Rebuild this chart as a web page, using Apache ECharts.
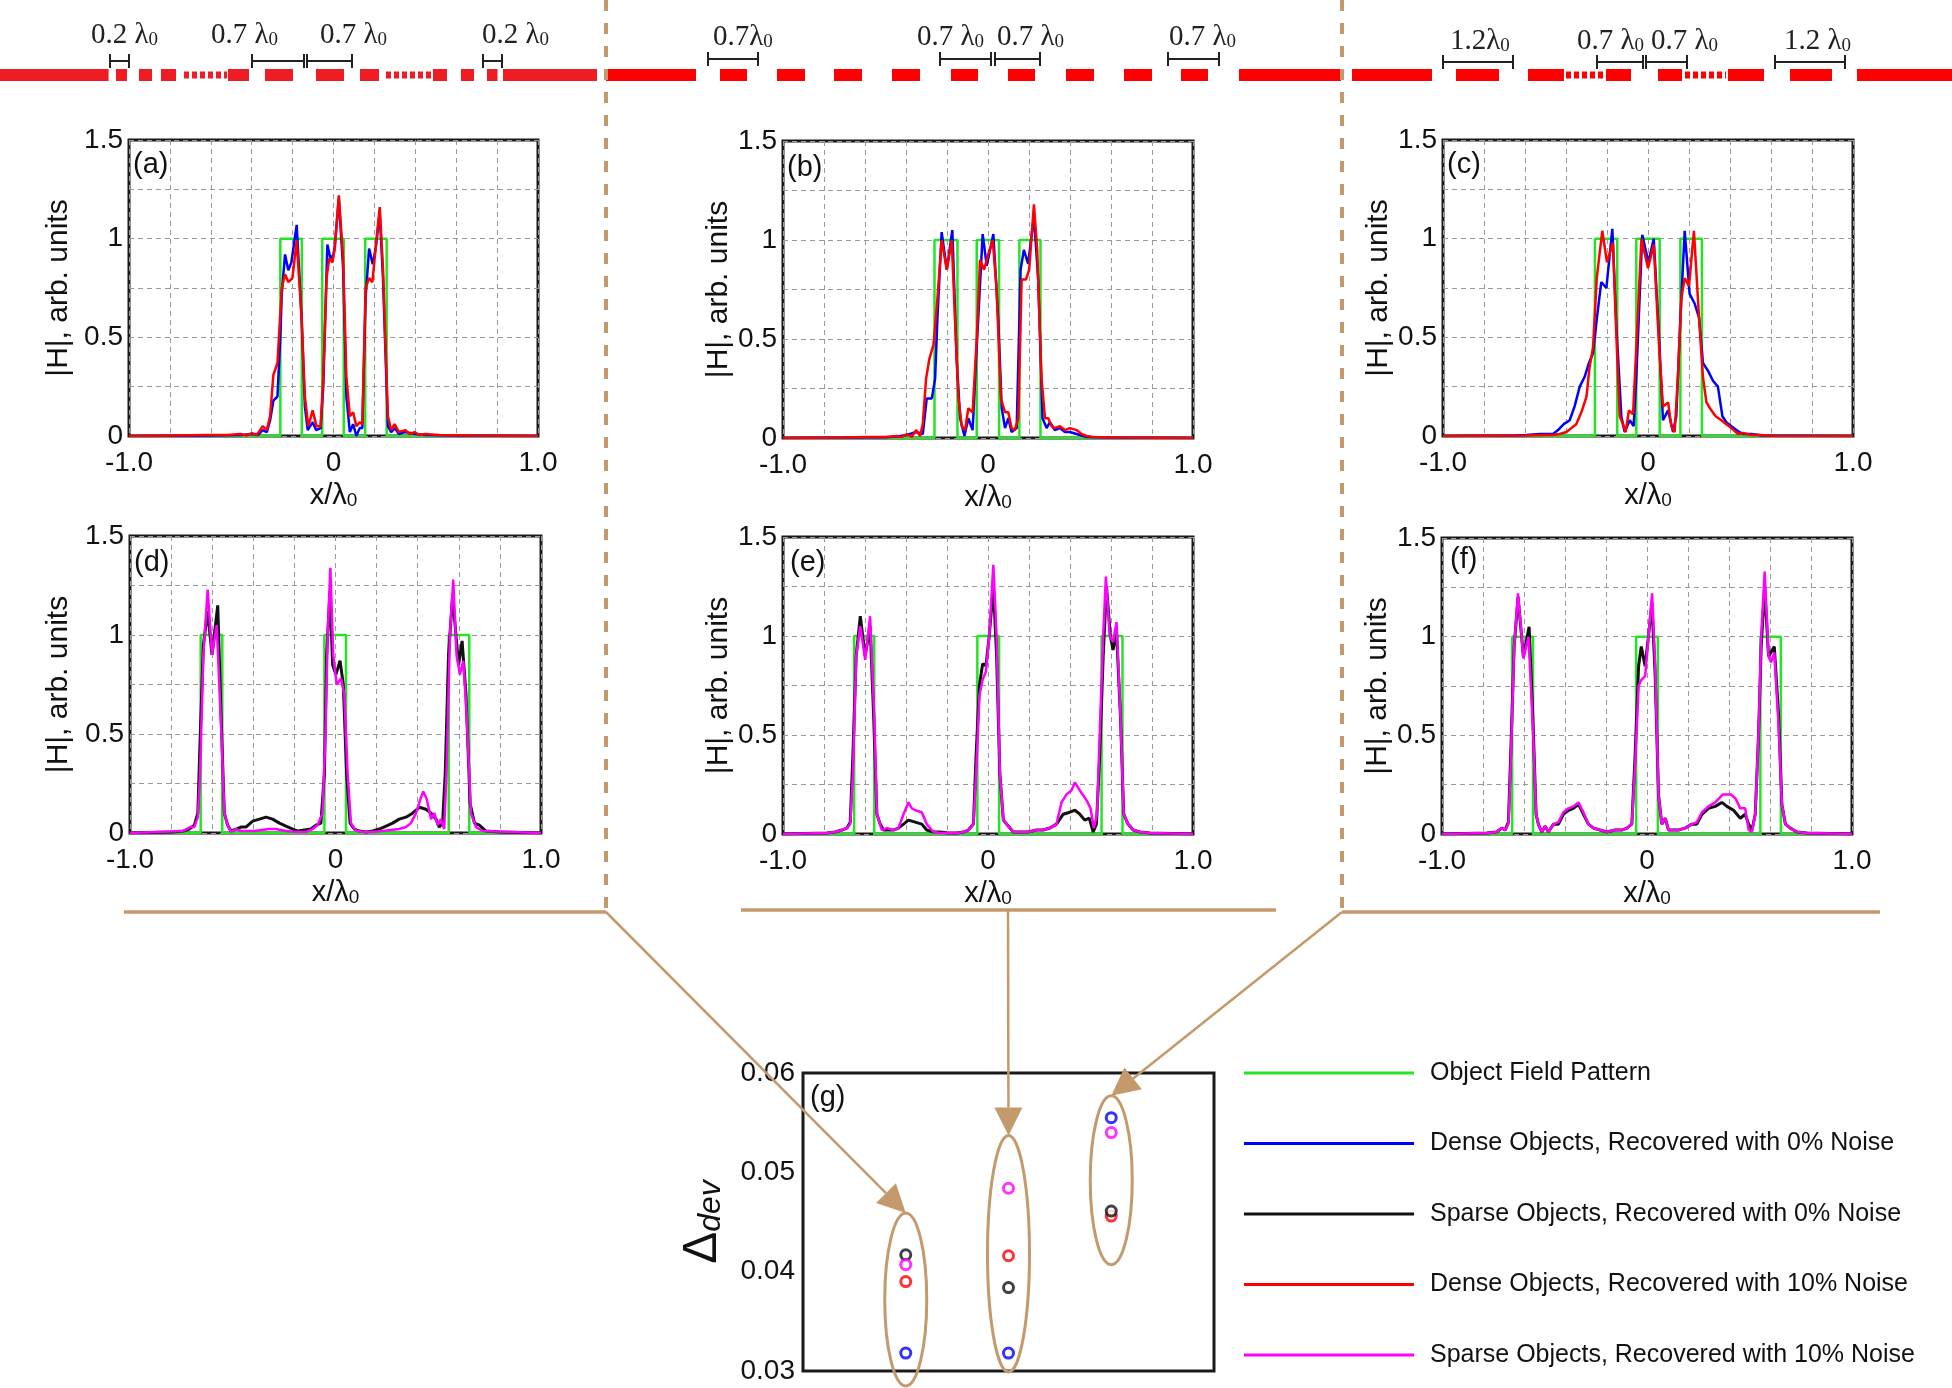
<!DOCTYPE html>
<html><head><meta charset="utf-8">
<script src="https://cdn.jsdelivr.net/npm/echarts@6/dist/echarts.min.js"></script>
<style>html,body{margin:0;padding:0;background:#fff}#c{width:1952px;height:1388px}</style>
</head><body><div id="c"></div>
<script>
// ---------------- DATA ----------------
const seriesNames = [
  'Object Field Pattern',
  'Dense Objects, Recovered with 0% Noise',
  'Sparse Objects, Recovered with 0% Noise',
  'Dense Objects, Recovered with 10% Noise',
  'Sparse Objects, Recovered with 10% Noise'
];
const panelLetters = ['(a)','(b)','(c)','(d)','(e)','(f)','(g)'];
const xTickLabels = [[-1,'-1.0'],[0,'0'],[1,'1.0']];
const yTickLabels = [[0,'0'],[0.5,'0.5'],[1,'1'],[1.5,'1.5']];
const gTickLabels = [[0.03,'0.03'],[0.04,'0.04'],[0.05,'0.05'],[0.06,'0.06']];

// object field patterns (rect edges, x/λ0)
const objA = [[-0.26,-0.155],[-0.055,0.05],[0.155,0.26]];
const objB = [[-0.261,-0.149],[-0.055,0.054],[0.153,0.256]];
const objC = [[-0.259,-0.15],[-0.057,0.057],[0.158,0.263]];
const objD = [[-0.656,-0.551],[-0.054,0.051],[0.551,0.651]];
const objE = [[-0.653,-0.555],[-0.052,0.054],[0.554,0.656]];
const objF = [[-0.658,-0.556],[-0.053,0.053],[0.553,0.653]];

const aDense0 = [[-1,0],[-0.6,0.002],[-0.45,0.005],[-0.4,0.01],[-0.37,0.005],[-0.346,0.03],[-0.326,0.02],[-0.31,0.08],[-0.294,0.18],[-0.274,0.2],[-0.26,0.5],[-0.253,0.72],[-0.237,0.92],[-0.221,0.84],[-0.206,0.88],[-0.18,1.07],[-0.156,0.6],[-0.14,0.15],[-0.126,0.03],[-0.102,0.07],[-0.085,0.03],[-0.063,0.04],[-0.05,0.25],[-0.03,0.97],[-0.015,0.9],[0,0.92],[0.006,0.96],[0.026,1.2],[0.047,0.85],[0.063,0.2],[0.08,0.02],[0.096,0.06],[0.112,0.0],[0.128,0.04],[0.141,0.04],[0.157,0.7],[0.174,0.95],[0.192,0.87],[0.206,0.95],[0.226,1.13],[0.242,0.8],[0.266,0.05],[0.282,0.02],[0.3,0.04],[0.32,0.01],[0.35,0.02],[0.4,0.01],[0.45,0.005],[0.6,0.002],[1,0]];
const aDense10 = [[-1,0],[-0.781,0.003],[-0.619,0.005],[-0.521,0.005],[-0.456,0.01],[-0.424,0.003],[-0.399,0.015],[-0.375,0.005],[-0.346,0.05],[-0.326,0.03],[-0.31,0.1],[-0.294,0.31],[-0.274,0.37],[-0.253,0.75],[-0.237,0.82],[-0.221,0.78],[-0.201,0.8],[-0.18,0.99],[-0.156,0.6],[-0.14,0.2],[-0.123,0.05],[-0.102,0.13],[-0.083,0.05],[-0.063,0.05],[-0.05,0.3],[-0.034,0.8],[-0.021,0.9],[-0.005,0.88],[0.006,0.95],[0.026,1.22],[0.047,0.9],[0.063,0.3],[0.08,0.1],[0.096,0.12],[0.112,0.05],[0.128,0.07],[0.141,0.06],[0.157,0.75],[0.174,0.8],[0.19,0.78],[0.206,0.95],[0.226,1.16],[0.242,0.85],[0.266,0.1],[0.282,0.03],[0.299,0.06],[0.32,0.02],[0.352,0.03],[0.372,0.01],[0.396,0.02],[0.42,0.005],[0.445,0.01],[0.518,0.005],[0.68,0.002],[1,0]];

const bDense0 = [[-1,0],[-0.7,0.002],[-0.5,0.004],[-0.445,0.008],[-0.396,0.015],[-0.35,0.03],[-0.318,0.02],[-0.299,0.2],[-0.274,0.2],[-0.258,0.3],[-0.247,0.6],[-0.226,1.04],[-0.201,0.85],[-0.174,1.05],[-0.153,0.4],[-0.136,0.1],[-0.115,0.01],[-0.096,0.1],[-0.075,0.04],[-0.058,0.4],[-0.026,1.03],[-0.006,0.87],[0.026,1.03],[0.05,0.6],[0.067,0.15],[0.083,0.05],[0.099,0.1],[0.115,0.03],[0.14,0.05],[0.159,0.85],[0.175,0.95],[0.196,0.88],[0.224,1.12],[0.245,0.8],[0.266,0.1],[0.286,0.05],[0.302,0.08],[0.326,0.04],[0.351,0.05],[0.375,0.03],[0.399,0.03],[0.432,0.02],[0.481,0.005],[0.6,0.002],[1,0]];
const bDense10 = [[-1,0],[-0.705,0.003],[-0.591,0.005],[-0.494,0.005],[-0.445,0.01],[-0.42,0.005],[-0.396,0.02],[-0.372,0.005],[-0.351,0.04],[-0.331,0.01],[-0.318,0.07],[-0.302,0.3],[-0.286,0.4],[-0.266,0.47],[-0.247,0.7],[-0.226,1.0],[-0.201,0.85],[-0.177,1.0],[-0.161,0.6],[-0.144,0.2],[-0.128,0.06],[-0.112,0.04],[-0.096,0.15],[-0.075,0.13],[-0.055,0.5],[-0.039,0.9],[-0.019,0.85],[0.002,0.93],[0.023,1.0],[0.042,0.75],[0.063,0.2],[0.083,0.13],[0.099,0.13],[0.115,0.05],[0.131,0.04],[0.148,0.1],[0.164,0.8],[0.185,0.8],[0.201,0.85],[0.224,1.18],[0.24,0.95],[0.261,0.3],[0.278,0.1],[0.294,0.1],[0.31,0.06],[0.326,0.05],[0.351,0.06],[0.375,0.04],[0.399,0.05],[0.432,0.04],[0.456,0.02],[0.481,0.01],[0.513,0.005],[0.627,0.002],[1,0]];

const cDense0 = [[-1,0],[-0.65,0.002],[-0.593,0.005],[-0.528,0.01],[-0.496,0.01],[-0.463,0.01],[-0.439,0.03],[-0.411,0.06],[-0.382,0.08],[-0.358,0.15],[-0.333,0.25],[-0.309,0.3],[-0.288,0.37],[-0.268,0.42],[-0.249,0.6],[-0.228,0.78],[-0.203,0.75],[-0.174,1.05],[-0.154,0.55],[-0.13,0.1],[-0.114,0.02],[-0.089,0.08],[-0.07,0.05],[-0.057,0.3],[-0.028,1.02],[0.002,0.88],[0.028,1.0],[0.054,0.5],[0.073,0.08],[0.098,0.13],[0.122,0.02],[0.138,0.1],[0.158,0.6],[0.179,1.04],[0.203,0.72],[0.228,0.67],[0.249,0.6],[0.268,0.37],[0.293,0.33],[0.317,0.28],[0.341,0.25],[0.363,0.1],[0.382,0.07],[0.407,0.05],[0.431,0.03],[0.463,0.01],[0.504,0.01],[0.56,0.002],[1,0]];
const cDense10 = [[-1,0],[-0.6,0.002],[-0.496,0.005],[-0.463,0.005],[-0.43,0.01],[-0.398,0.02],[-0.374,0.04],[-0.35,0.06],[-0.325,0.12],[-0.3,0.2],[-0.285,0.35],[-0.268,0.45],[-0.25,0.8],[-0.223,1.04],[-0.2,0.88],[-0.171,0.98],[-0.154,0.5],[-0.138,0.1],[-0.122,0.06],[-0.109,0.02],[-0.093,0.13],[-0.073,0.11],[-0.057,0.45],[-0.032,1.0],[0,0.85],[0.028,0.97],[0.057,0.4],[0.073,0.15],[0.098,0.17],[0.114,0.05],[0.13,0.02],[0.146,0.3],[0.163,0.7],[0.179,0.8],[0.2,0.76],[0.224,1.04],[0.249,0.6],[0.268,0.3],[0.285,0.17],[0.309,0.13],[0.33,0.1],[0.358,0.08],[0.382,0.06],[0.407,0.04],[0.439,0.01],[0.463,0.015],[0.504,0.005],[0.545,0.005],[0.61,0.001],[1,0]];

const dSparse0 = [[-1,0],[-0.79,0.005],[-0.74,0.01],[-0.711,0.02],[-0.687,0.04],[-0.67,0.1],[-0.658,0.5],[-0.643,0.95],[-0.622,1.12],[-0.601,0.9],[-0.573,1.15],[-0.557,0.6],[-0.541,0.1],[-0.525,0.04],[-0.509,0.01],[-0.484,0.02],[-0.46,0.03],[-0.436,0.03],[-0.403,0.06],[-0.37,0.07],[-0.338,0.08],[-0.306,0.07],[-0.273,0.05],[-0.241,0.035],[-0.208,0.02],[-0.184,0.01],[-0.152,0.015],[-0.119,0.02],[-0.095,0.04],[-0.071,0.05],[-0.054,0.3],[-0.043,0.9],[-0.027,1.22],[-0.014,0.85],[0.002,0.8],[0.022,0.87],[0.038,0.75],[0.054,0.3],[0.071,0.05],[0.092,0.02],[0.116,0.01],[0.148,0.005],[0.181,0.01],[0.213,0.02],[0.246,0.035],[0.278,0.05],[0.31,0.07],[0.343,0.08],[0.375,0.1],[0.408,0.13],[0.44,0.12],[0.465,0.1],[0.489,0.07],[0.505,0.03],[0.521,0.05],[0.534,0.3],[0.55,0.9],[0.57,1.2],[0.586,1.0],[0.599,0.85],[0.616,0.97],[0.635,0.7],[0.655,0.15],[0.676,0.05],[0.7,0.04],[0.732,0.01],[0.797,0.005],[1,0]];
const dSparse10 = [[-1,0],[-0.74,0.01],[-0.708,0.03],[-0.687,0.03],[-0.67,0.08],[-0.659,0.3],[-0.643,0.9],[-0.622,1.23],[-0.601,0.9],[-0.578,1.05],[-0.557,0.55],[-0.541,0.1],[-0.525,0.04],[-0.509,0.005],[-0.484,0.02],[-0.46,0.01],[-0.427,0.01],[-0.395,0.01],[-0.363,0.015],[-0.322,0.02],[-0.29,0.02],[-0.241,0.01],[-0.192,0.005],[-0.144,0.005],[-0.111,0.02],[-0.087,0.04],[-0.063,0.1],[-0.049,0.5],[-0.038,1.0],[-0.025,1.34],[-0.011,0.9],[0.006,0.75],[0.027,0.78],[0.043,0.7],[0.059,0.3],[0.075,0.05],[0.1,0.01],[0.14,0.005],[0.181,0.005],[0.23,0.01],[0.27,0.015],[0.31,0.02],[0.343,0.03],[0.367,0.05],[0.392,0.1],[0.416,0.18],[0.427,0.21],[0.444,0.17],[0.465,0.07],[0.481,0.1],[0.497,0.04],[0.513,0.07],[0.529,0.02],[0.54,0.3],[0.557,1.0],[0.573,1.28],[0.589,0.9],[0.605,0.8],[0.622,0.87],[0.638,0.6],[0.659,0.1],[0.684,0.03],[0.716,0.01],[1,0]];

const eSparse0 = [[-1,0],[-0.786,0.005],[-0.745,0.01],[-0.713,0.02],[-0.688,0.03],[-0.672,0.06],[-0.659,0.4],[-0.643,0.9],[-0.623,1.1],[-0.599,0.9],[-0.575,1.05],[-0.558,0.6],[-0.542,0.1],[-0.526,0.05],[-0.51,0.02],[-0.485,0.02],[-0.461,0.02],[-0.437,0.03],[-0.412,0.05],[-0.388,0.07],[-0.355,0.06],[-0.323,0.05],[-0.299,0.02],[-0.266,0.01],[-0.234,0.01],[-0.193,0.005],[-0.153,0.005],[-0.12,0.01],[-0.096,0.02],[-0.071,0.05],[-0.058,0.4],[-0.042,0.75],[-0.026,0.86],[-0.01,0.85],[0.006,1.0],[0.026,1.25],[0.042,0.9],[0.058,0.3],[0.075,0.07],[0.099,0.04],[0.123,0.01],[0.156,0.01],[0.196,0.01],[0.237,0.02],[0.269,0.02],[0.302,0.03],[0.334,0.05],[0.367,0.1],[0.399,0.11],[0.424,0.12],[0.448,0.1],[0.472,0.07],[0.494,0.08],[0.513,0.01],[0.529,0.05],[0.545,0.4],[0.562,0.9],[0.578,1.25],[0.597,1.0],[0.61,0.93],[0.627,1.02],[0.646,0.6],[0.662,0.1],[0.683,0.05],[0.708,0.02],[0.74,0.01],[0.789,0.005],[1,0]];
const eSparse10 = [[-1,0],[-0.786,0.005],[-0.745,0.01],[-0.713,0.02],[-0.688,0.03],[-0.672,0.05],[-0.659,0.3],[-0.643,0.9],[-0.623,1.05],[-0.599,0.88],[-0.575,1.1],[-0.555,0.6],[-0.542,0.1],[-0.518,0.02],[-0.494,0.03],[-0.461,0.02],[-0.437,0.03],[-0.412,0.1],[-0.388,0.16],[-0.372,0.13],[-0.355,0.12],[-0.323,0.11],[-0.299,0.05],[-0.266,0.01],[-0.234,0.005],[-0.193,0.005],[-0.153,0.005],[-0.12,0.01],[-0.096,0.02],[-0.071,0.05],[-0.058,0.3],[-0.042,0.7],[-0.026,0.78],[-0.01,0.82],[0.006,1.0],[0.026,1.36],[0.042,1.0],[0.058,0.3],[0.075,0.07],[0.099,0.04],[0.123,0.01],[0.156,0.01],[0.196,0.01],[0.237,0.02],[0.269,0.02],[0.302,0.03],[0.334,0.05],[0.359,0.16],[0.383,0.2],[0.407,0.22],[0.424,0.26],[0.448,0.22],[0.481,0.17],[0.5,0.13],[0.516,0.03],[0.532,0.1],[0.545,0.5],[0.562,1.0],[0.575,1.3],[0.594,1.0],[0.61,0.97],[0.627,1.07],[0.646,0.6],[0.662,0.1],[0.683,0.05],[0.708,0.02],[0.74,0.01],[0.789,0.005],[1,0]];

const fSparse0 = [[-1,0],[-0.782,0.005],[-0.733,0.01],[-0.709,0.03],[-0.692,0.02],[-0.676,0.06],[-0.665,0.4],[-0.648,0.95],[-0.629,1.2],[-0.603,0.9],[-0.575,1.05],[-0.557,0.6],[-0.541,0.1],[-0.53,0.05],[-0.513,0.01],[-0.497,0.04],[-0.481,0.01],[-0.456,0.05],[-0.432,0.05],[-0.408,0.1],[-0.383,0.12],[-0.359,0.13],[-0.334,0.15],[-0.31,0.1],[-0.286,0.05],[-0.261,0.03],[-0.229,0.02],[-0.196,0.01],[-0.155,0.02],[-0.123,0.02],[-0.098,0.03],[-0.074,0.05],[-0.058,0.4],[-0.041,0.85],[-0.028,0.95],[-0.009,0.85],[0.007,1.0],[0.024,1.17],[0.04,0.8],[0.056,0.2],[0.072,0.05],[0.089,0.08],[0.105,0.02],[0.129,0.02],[0.154,0.02],[0.186,0.03],[0.219,0.05],[0.243,0.05],[0.268,0.1],[0.3,0.13],[0.333,0.14],[0.365,0.16],[0.39,0.14],[0.422,0.12],[0.455,0.08],[0.479,0.1],[0.496,0.05],[0.512,0.02],[0.528,0.1],[0.544,0.5],[0.557,0.95],[0.574,1.25],[0.593,0.9],[0.621,0.95],[0.642,0.6],[0.658,0.15],[0.675,0.05],[0.699,0.03],[0.732,0.01],[0.78,0.005],[1,0]];
const fSparse10 = [[-1,0],[-0.782,0.005],[-0.733,0.01],[-0.709,0.03],[-0.692,0.02],[-0.676,0.05],[-0.665,0.35],[-0.648,0.95],[-0.629,1.22],[-0.603,0.89],[-0.578,1.0],[-0.557,0.55],[-0.541,0.1],[-0.53,0.05],[-0.513,0.01],[-0.497,0.04],[-0.481,0.01],[-0.456,0.05],[-0.432,0.06],[-0.408,0.11],[-0.383,0.13],[-0.359,0.14],[-0.334,0.16],[-0.31,0.11],[-0.286,0.05],[-0.261,0.03],[-0.229,0.02],[-0.196,0.01],[-0.155,0.02],[-0.123,0.02],[-0.098,0.03],[-0.074,0.05],[-0.058,0.35],[-0.041,0.75],[-0.028,0.78],[-0.009,0.8],[0.007,1.0],[0.025,1.22],[0.04,0.85],[0.056,0.2],[0.072,0.05],[0.089,0.08],[0.105,0.02],[0.129,0.02],[0.154,0.02],[0.186,0.03],[0.219,0.05],[0.243,0.06],[0.268,0.11],[0.3,0.14],[0.333,0.16],[0.369,0.2],[0.41,0.2],[0.432,0.18],[0.455,0.13],[0.479,0.13],[0.496,0.02],[0.512,0.01],[0.528,0.1],[0.544,0.5],[0.557,1.0],[0.574,1.33],[0.593,0.9],[0.605,0.87],[0.621,0.92],[0.642,0.55],[0.658,0.15],[0.675,0.05],[0.699,0.03],[0.732,0.01],[0.78,0.005],[1,0]];

// panel (g): deviation for the three configurations
const gPositions = [1, 2, 3];
const gDense0  = [0.0318, 0.0318, 0.0555];
const gSparse0 = [0.0417, 0.0384, 0.0461];
const gDense10 = [0.0390, 0.0416, 0.0456];
const gSparse10 = [0.0407, 0.0484, 0.0540];
// ellipse spans (data units) around each group
const gGroupSpans = [[0.0285, 0.0459], [0.0299, 0.0537], [0.0407, 0.0577]];

// top schematic labels
const topLabels = [
  ['0.2 λ','0'],['0.7 λ','0'],['0.7 λ','0'],['0.2 λ','0'],
  ['0.7λ','0'],['0.7 λ','0'],['0.7 λ','0'],['0.7 λ','0'],
  ['1.2λ','0'],['0.7 λ','0'],['0.7 λ','0'],['1.2 λ','0']
];

// ---------------- LAYOUT / STYLE ----------------
const FONT = "'Liberation Sans', Arial, sans-serif";
const SERIF = "'Liberation Serif', 'Times New Roman', serif";
const BROWN = '#C49A6C';
const colors = {
  'Object Field Pattern': '#22e622',
  'Dense Objects, Recovered with 0% Noise': '#0000ff',
  'Sparse Objects, Recovered with 0% Noise': '#111111',
  'Dense Objects, Recovered with 10% Noise': '#ff0000',
  'Sparse Objects, Recovered with 10% Noise': '#ff00ff'
};
const widths = {
  'Object Field Pattern': 2.5,
  'Dense Objects, Recovered with 0% Noise': 2.5,
  'Sparse Objects, Recovered with 0% Noise': 3,
  'Dense Objects, Recovered with 10% Noise': 2.5,
  'Sparse Objects, Recovered with 10% Noise': 2.5
};
const gridRects = [
  [129,140,409,296],[783,141,410,297],[1443,140,410,296],
  [130,536,411,297],[783,537,410,297],[1442,538,410,296],
  [803,1073,411,298]
];
const yNameGaps = [55,48,49,56,48,48];
const letterPos = [[133,150],[787,153],[1447,150],[134,548],[790,548],[1450,545],[810,1083]];
const topLabelPos = [
  [91,21],[211,21],[320,21],[482,21],
  [713,23],[917,23],[997,23],[1169,23],
  [1450,27],[1577,27],[1651,27],[1784,27]
];
const scaleBars = [
  [110,129,61],[252,304,61],[307,352,61],[483,502,61],
  [708,758,59],[940,991,59],[995,1040,59],[1168,1219,59],
  [1443,1513,62],[1597,1643,62],[1646,1687,62],[1775,1845,62]
];
const RED1 = '#ee1d23', RED2 = '#ff0000';
const stripSolid = [
  [0,108.6,RED1],[116,127,RED1],[139,152,RED1],[161,176,RED1],[228,249,RED1],[265,293,RED1],[316,344,RED1],[360,379,RED1],[433,447,RED1],[461,474,RED1],[487,497.5,RED1],[503,597,RED1],
  [606,696,RED2],[720,747,RED2],[777,805,RED2],[834,862,RED2],[892,920,RED2],[951,978,RED2],[1008,1035,RED2],[1066,1094,RED2],[1124,1152,RED2],[1181,1208,RED2],[1239,1341,RED2],
  [1352,1432,RED2],[1456,1499,RED2],[1528,1564,RED2],[1606,1631,RED2],[1658,1682,RED2],[1728,1764,RED2],[1790,1832,RED2],[1857,1952,RED2]
];
const stripDotted = [[184,227,RED1],[386,431,RED1],[1566,1603,RED2],[1685,1726,RED2]];

// ---------------- BUILD ----------------
function stepFromRects(r) {
  const p = [[-1, 0]];
  r.forEach(([a, b]) => { p.push([a, 0], [a, 1], [b, 1], [b, 0]); });
  p.push([1, 0]);
  return p;
}
const near = (v, t) => Math.abs(v - t) < 1e-6;
function fmt(list) { return v => { for (const [t, s] of list) if (near(v, t)) return s; return ''; }; }

const panels = [
  { obj: objA, curves: [[seriesNames[1], aDense0], [seriesNames[3], aDense10]] },
  { obj: objB, curves: [[seriesNames[1], bDense0], [seriesNames[3], bDense10]] },
  { obj: objC, curves: [[seriesNames[1], cDense0], [seriesNames[3], cDense10]] },
  { obj: objD, curves: [[seriesNames[2], dSparse0], [seriesNames[4], dSparse10]] },
  { obj: objE, curves: [[seriesNames[2], eSparse0], [seriesNames[4], eSparse10]] },
  { obj: objF, curves: [[seriesNames[2], fSparse0], [seriesNames[4], fSparse10]] }
];

const grids = [], xAxes = [], yAxes = [], series = [];
gridRects.forEach(([l, t, w, h]) => grids.push({
  left: l, top: t, width: w, height: h, show: true, borderColor: '#1a1a1a', borderWidth: 3,
  containLabel: false, outerBoundsMode: 'none'
}));

panels.forEach((p, i) => {
  xAxes.push({
    gridIndex: i, type: 'value', min: -1, max: 1, interval: 0.2,
    axisLine: { show: false }, axisTick: { show: false },
    axisLabel: { formatter: fmt(xTickLabels), fontSize: 28, fontFamily: FONT, color: '#111', margin: 13 },
    splitLine: { show: true, lineStyle: { color: '#9a9a9a', width: 1, type: [5, 4] } },
    name: '{m|x/λ}{s|0}', nameLocation: 'middle', nameGap: 45,
    nameTextStyle: { fontFamily: FONT, color: '#111', rich: {
      m: { fontSize: 29, fontFamily: FONT, color: '#111', lineHeight: 29, verticalAlign: 'top' },
      s: { fontSize: 19, fontFamily: FONT, color: '#111', lineHeight: 19, verticalAlign: 'bottom', padding: [13, 0, 0, 0] }
    } }
  });
  yAxes.push({
    gridIndex: i, type: 'value', min: 0, max: 1.5, interval: 0.25,
    axisLine: { show: false }, axisTick: { show: false },
    axisLabel: { formatter: fmt(yTickLabels), fontSize: 28, fontFamily: FONT, color: '#111', margin: 6 },
    splitLine: { show: true, lineStyle: { color: '#9a9a9a', width: 1, type: [5, 4] } },
    name: '|H|, arb. units', nameLocation: 'middle', nameGap: yNameGaps[i],
    nameTextStyle: { fontSize: 30, fontFamily: FONT, color: '#111' }
  });
  const mk = (name, data) => ({
    type: 'line', name, xAxisIndex: i, yAxisIndex: i, data,
    showSymbol: false, symbol: 'none', animation: false, silent: true,
    color: colors[name], lineStyle: { color: colors[name], width: widths[name] }
  });
  series.push(mk(seriesNames[0], stepFromRects(p.obj)));
  p.curves.forEach(([n, d]) => series.push(mk(n, d)));
});

// panel (g)
xAxes.push({ gridIndex: 6, type: 'value', min: 0, max: 4, show: false });
yAxes.push({
  gridIndex: 6, type: 'value', min: 0.03, max: 0.06, interval: 0.01,
  axisLine: { show: false }, axisTick: { show: false }, splitLine: { show: false },
  axisLabel: { formatter: fmt(gTickLabels), fontSize: 28, fontFamily: FONT, color: '#111', margin: 8 },
  name: '{D|Δ}{d|dev}', nameLocation: 'middle', nameGap: 76,
  nameTextStyle: { fontFamily: FONT, color: '#111', rich: {
    D: { fontSize: 48, fontFamily: FONT, color: '#111', lineHeight: 48, verticalAlign: 'bottom' },
    d: { fontSize: 32, fontFamily: FONT, fontStyle: 'italic', color: '#111', lineHeight: 32, verticalAlign: 'bottom' }
  } }
});
[[seriesNames[3], gDense10], [seriesNames[2], gSparse0], [seriesNames[4], gSparse10], [seriesNames[1], gDense0]]
  .forEach(([n, vals]) => series.push({
    type: 'scatter', name: n, xAxisIndex: 6, yAxisIndex: 6,
    data: gPositions.map((x, k) => [x, vals[k]]),
    symbol: 'circle', symbolSize: 10, animation: false, silent: true, z: 5,
    itemStyle: { color: '#ffffff', borderColor: colors[n], borderWidth: 3 }
  }));

// static graphics
const graphic = [];
stripSolid.forEach(([a, b, c]) => graphic.push({ type: 'rect', silent: true, shape: { x: a, y: 69, width: b - a, height: 12 }, style: { fill: c } }));
stripDotted.forEach(([a, b, c]) => graphic.push({ type: 'line', silent: true, shape: { x1: a, y1: 75, x2: b, y2: 75 }, style: { stroke: c, lineWidth: 7, lineDash: [5, 3] } }));
scaleBars.forEach(([a, b, y]) => {
  graphic.push({ type: 'line', silent: true, shape: { x1: a, y1: y, x2: b, y2: y }, style: { stroke: '#222', lineWidth: 2 } });
  graphic.push({ type: 'line', silent: true, shape: { x1: a, y1: y - 7, x2: a, y2: y + 7 }, style: { stroke: '#222', lineWidth: 2 } });
  graphic.push({ type: 'line', silent: true, shape: { x1: b, y1: y - 7, x2: b, y2: y + 7 }, style: { stroke: '#222', lineWidth: 2 } });
});
topLabels.forEach(([m, s], k) => graphic.push({
  type: 'text', silent: true, x: topLabelPos[k][0], y: topLabelPos[k][1],
  style: { text: '{m|' + m + '}{s|' + s + '}', fill: '#222', rich: {
    m: { fontSize: 29, fontFamily: SERIF, fill: '#222', lineHeight: 29, verticalAlign: 'top' },
    s: { fontSize: 19, fontFamily: SERIF, fill: '#222', lineHeight: 19, verticalAlign: 'bottom', padding: [13, 0, 0, 0] }
  } }
}));
panelLetters.forEach((t, k) => graphic.push({
  type: 'text', silent: true, x: letterPos[k][0], y: letterPos[k][1],
  style: { text: t, fontSize: 29, fontFamily: FONT, fill: '#111', verticalAlign: 'top' }
}));
// separators
[[606, 0, 606, 912], [1342, 0, 1342, 912]].forEach(([x1, y1, x2, y2]) => graphic.push({
  type: 'line', silent: true, shape: { x1, y1, x2, y2 }, style: { stroke: BROWN, lineWidth: 4, lineDash: [11, 12] }
}));
[[124, 912, 606, 912], [741, 910, 1276, 910], [1342, 912, 1880, 912]].forEach(([x1, y1, x2, y2]) => graphic.push({
  type: 'line', silent: true, shape: { x1, y1, x2, y2 }, style: { stroke: BROWN, lineWidth: 3.5 }
}));

const chart = echarts.init(document.getElementById('c'), null, { renderer: 'canvas' });
chart.setOption({
  backgroundColor: '#ffffff',
  animation: false,
  grid: grids, xAxis: xAxes, yAxis: yAxes, series,
  legend: {
    orient: 'vertical', left: 1239, top: 1053, itemWidth: 170, itemHeight: 3, itemGap: 40.5,
    icon: 'rect', selectedMode: false, data: seriesNames,
    textStyle: { fontSize: 25, fontFamily: FONT, color: '#111', lineHeight: 30, padding: [0, 0, 0, 11] }
  },
  graphic
});

// ellipses and arrows anchored to panel (g) data
const arrowStarts = [[606, 912], [1008, 910], [1342, 912]];
const extra = [];
gPositions.forEach((x, k) => {
  const top = chart.convertToPixel({ gridIndex: 6 }, [x, gGroupSpans[k][1]]);
  const bot = chart.convertToPixel({ gridIndex: 6 }, [x, gGroupSpans[k][0]]);
  const cx = top[0], cy = (top[1] + bot[1]) / 2, ry = (bot[1] - top[1]) / 2;
  extra.push({ type: 'ellipse', id: 'ell' + k, silent: true, z: 10, shape: { cx, cy, rx: 21, ry }, style: { fill: 'none', stroke: BROWN, lineWidth: 3 } });
  const [x1, y1] = arrowStarts[k], x2 = cx, y2 = top[1];
  const dx = x2 - x1, dy = y2 - y1, L = Math.hypot(dx, dy), ux = dx / L, uy = dy / L;
  const len = 28, half = 14, bx = x2 - ux * len, by = y2 - uy * len;
  extra.push({ type: 'line', id: 'arl' + k, silent: true, z: 10, shape: { x1, y1, x2: bx, y2: by }, style: { stroke: BROWN, lineWidth: 2.5 } });
  extra.push({ type: 'polygon', id: 'arh' + k, silent: true, z: 10, shape: { points: [[x2, y2], [bx - uy * half, by + ux * half], [bx + uy * half, by - ux * half]] }, style: { fill: BROWN } });
});
chart.setOption({ graphic: graphic.concat(extra) });
</script>
</body></html>
